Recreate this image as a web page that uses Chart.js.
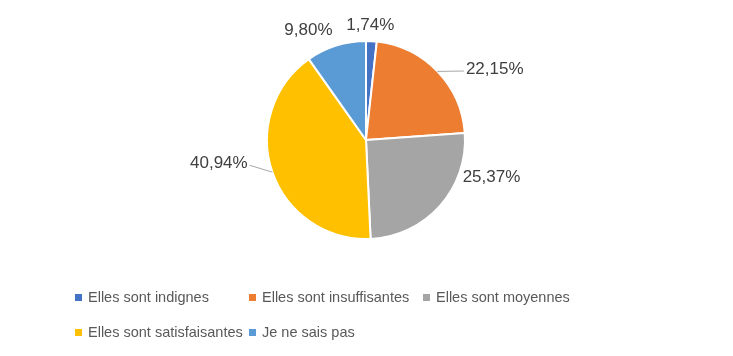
<!DOCTYPE html>
<html><head><meta charset="utf-8">
<script src="https://cdn.jsdelivr.net/npm/chart.js@4/dist/chart.umd.min.js"></script>
<style>html,body{margin:0;padding:0;background:#fff}</style>
</head><body>
<canvas id="c" width="733" height="356"></canvas>
<script>
const categories = ["Elles sont indignes","Elles sont insuffisantes","Elles sont moyennes","Elles sont satisfaisantes","Je ne sais pas"];
const values = [1.74, 22.15, 25.37, 40.94, 9.80];
const valueLabels = ["1,74%","22,15%","25,37%","40,94%","9,80%"];
const colors = ["#4472C4","#ED7D31","#A5A5A5","#FFC000","#5B9BD5"];

// label placement style: angular shift (deg) and distance beyond the rim, leader line flag
const labelPlacement = [
  {shift:-1, extra:16, leader:false},
  {shift:15, extra:48, leader:true},
  {shift:-25, extra:32, leader:false},
  {shift:10, extra:50, leader:true},
  {shift:-10, extra:25, leader:false}
];

const labelPlugin = {
  id:'outLabels',
  afterDatasetsDraw(chart){
    const ctx = chart.ctx;
    const meta = chart.getDatasetMeta(0);
    ctx.save();
    ctx.font = '17px "Liberation Sans", Arial, sans-serif';
    ctx.fillStyle = '#404040';
    ctx.textBaseline = 'middle';
    meta.data.forEach((arc,i)=>{
      const p = labelPlacement[i];
      const mid = (arc.startAngle + arc.endAngle)/2;
      const a = mid + p.shift*Math.PI/180;
      const r = arc.outerRadius + p.extra;
      const tx = arc.x + Math.cos(a)*r;
      const ty = arc.y + Math.sin(a)*r;
      const txt = valueLabels[i];
      const w = ctx.measureText(txt).width;
      ctx.textAlign = 'center';
      ctx.fillText(txt, tx, ty);
      if (p.leader){
        const sx = arc.x + Math.cos(mid)*arc.outerRadius;
        const sy = arc.y + Math.sin(mid)*arc.outerRadius;
        const ex = Math.cos(a) >= 0 ? tx - w/2 - 2 : tx + w/2 + 2;
        const ey = ty + 2;
        ctx.beginPath();
        ctx.strokeStyle = '#A6A6A6';
        ctx.lineWidth = 1;
        ctx.moveTo(sx, sy);
        ctx.lineTo(ex, ey);
        ctx.stroke();
      }
    });
    ctx.restore();
  }
};

const legendPlugin = {
  id:'gridLegend',
  afterDraw(chart){
    const ctx = chart.ctx;
    const x0 = 75, colW = 174, y0 = 298, rowH = 35, cols = 3;
    ctx.save();
    ctx.font = '14.5px "Liberation Sans", Arial, sans-serif';
    ctx.textBaseline = 'middle';
    ctx.textAlign = 'left';
    categories.forEach((c,i)=>{
      const col = i % cols, row = Math.floor(i/cols);
      const x = x0 + col*colW, y = y0 + row*rowH;
      ctx.fillStyle = colors[i];
      ctx.fillRect(x, y-4, 7, 7);
      ctx.fillStyle = '#595959';
      ctx.fillText(c, x+13, y);
    });
    ctx.restore();
  }
};

new Chart(document.getElementById('c'), {
  type:'pie',
  data:{labels:categories, datasets:[{data:values, backgroundColor:colors, borderColor:'#ffffff', borderWidth:2}]},
  options:{
    responsive:false, animation:false, devicePixelRatio:1,
    layout:{padding:{top:40, bottom:116, left:0, right:1}},
    plugins:{legend:{display:false}, tooltip:{enabled:false}}
  },
  plugins:[labelPlugin, legendPlugin]
});
</script>
</body></html>
